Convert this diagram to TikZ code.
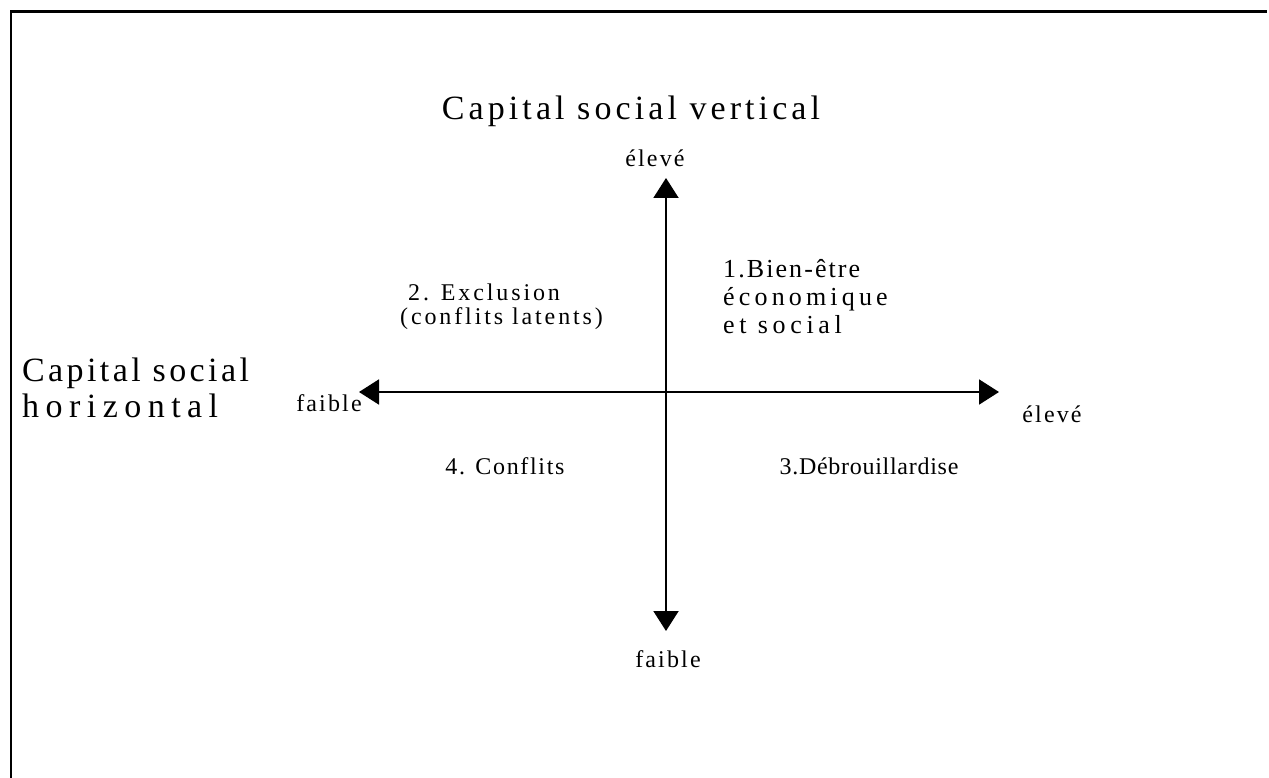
\documentclass[tikz,border=0pt]{standalone}
\usepackage{fontspec}
\setmainfont{Liberation Serif}
\usetikzlibrary{arrows.meta}
\newcommand{\ls}[1]{\addfontfeatures{LetterSpace=#1}}
\begin{document}
\begin{tikzpicture}[x=1pt,y=-1pt,
  axis/.style={line width=2pt,-{Triangle[length=20pt,width=25pt]}},
  frame/.style={line width=2.2pt},
  title/.style={font=\fontsize{34}{36}\selectfont,inner sep=0pt},
  tick/.style={font=\fontsize{24}{28}\selectfont\ls{9},inner sep=0pt},
  quad/.style={font=\fontsize{24}{24}\selectfont,inner sep=0pt,align=left}]
\useasboundingbox (0,0) rectangle (1269,778);

% open frame: left and top sides only
\coordinate (fbl) at (11,778);
\coordinate (ftl) at (11,11.5);
\coordinate (ftr) at (1267,11.5);
\draw[frame] (fbl) -- (ftl) -- (ftr);

% axes
\coordinate (o) at (666,392);
\coordinate (vtop) at (666,178);
\coordinate (vbot) at (666,631);
\coordinate (hleft) at (359,392);
\coordinate (hright) at (999,392);
\draw[axis] (o) -- (vtop);
\draw[axis] (o) -- (vbot);
\draw[axis] (o) -- (hleft);
\draw[axis] (o) -- (hright);

% axis titles
\node[title] (tv) at (631,111) {\ls{12}Capital social vertical};
\node[title,anchor=north west,align=left] (th) at (22,358)
  {{\ls{10}Capital social}\\{\ls{19}horizontal}};

% axis ends
\node[tick] (vhigh) at (655,158) {élevé};
\node[tick] (vlow) at (668,659) {faible};
\node[tick] (hlow) at (329,403) {faible};
\node[tick] (hhigh) at (1052,414) {élevé};

% quadrants
\node[quad,font=\fontsize{26}{28}\selectfont,anchor=north west] (q1) at (723,259)
  {{\ls{8}1.Bien-être}\\{\ls{16}économique}\\{\ls{18}et social}};
\node[quad,anchor=north west] (q2) at (400,284)
  {{\ls{12}\hspace*{8pt}2. Exclusion}\\{\ls{12}(conflits latents)}};
\node[quad] (q3) at (869,466) {\ls{3}3.Débrouillardise};
\node[quad] (q4) at (505,466) {\ls{7}4. Conflits};
\end{tikzpicture}
\end{document}
